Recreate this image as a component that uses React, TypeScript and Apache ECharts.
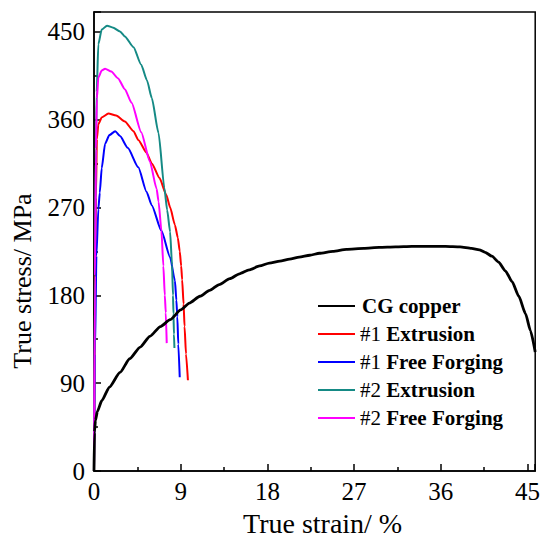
import React, { useEffect, useRef } from "react";
import * as echarts from "echarts";

const FONT = '"Liberation Serif", "Times New Roman", serif';

const seriesNames = ["CG copper", "#1 Extrusion", "#1 Free Forging", "#2 Extrusion", "#2 Free Forging"];
const seriesColors = ["#000000", "#FF0000", "#0000FF", "#158A85", "#FF00FF"];

const cgStrain = [0, 0.05, 0.15, 0.35, 0.8, 1.6, 2.7, 3.7, 4.8, 5.8, 6.9, 7.9, 9.0, 9.9, 11.0, 12.0, 13.0, 14.1, 15.1, 16.1, 17.2, 18.2, 19.3, 20.3, 21.3, 22.4, 23.4, 24.8, 26.2, 28.0, 29.6, 31.3, 33.0, 34.8, 36.5, 38.0, 39.2, 40.0, 40.6, 41.3, 42.0, 42.7, 43.4, 44.1, 44.8, 45.3, 45.8];
const cgStress = [0, 40, 52, 61, 72, 86, 101, 115, 127, 138, 148, 155, 165, 172, 179, 185, 191, 197, 202, 206, 210, 213, 215, 217, 219, 221, 223, 225, 227, 228, 229, 229.5, 230, 230, 230, 229.5, 228, 226.5, 224, 220, 214, 205, 194, 179, 161, 144, 122];

const ext1Strain = [0, 0.1, 0.2, 0.3, 0.45, 0.8, 1.5, 2.3, 3.2, 4.1, 4.6, 5.45, 6.0, 6.8, 7.5, 7.9, 8.4, 8.7, 8.9, 9.05, 9.15, 9.3, 9.4, 9.55, 9.75];
const ext1Stress = [0, 150, 280, 340, 355, 362, 366, 364, 358, 348, 339, 326, 315, 300, 283, 270, 252, 239, 225, 210, 196, 171, 148, 120, 93];

const ff1Strain = [0, 0.1, 0.25, 0.45, 0.6, 0.8, 1.15, 1.6, 2.2, 2.7, 3.5, 4.6, 5.45, 6.0, 7.0, 7.9, 8.4, 8.55, 8.65, 8.75, 8.9];
const ff1Stress = [0, 120, 220, 268, 285, 310, 335, 344, 348, 343, 331, 311, 286, 272, 246, 219, 195, 175, 158, 130, 96];

const ext2Strain = [0, 0.1, 0.2, 0.28, 0.45, 0.8, 1.35, 2.0, 2.7, 3.2, 4.1, 4.9, 5.5, 6.0, 6.7, 7.3, 7.6, 7.9, 8.1, 8.2, 8.25, 8.3, 8.35];
const ext2Stress = [0, 200, 330, 388, 437, 452, 456, 454, 450, 445, 434, 416, 400, 382, 346, 290, 267, 245, 211, 180, 161, 140, 126];

const ff2Strain = [0, 0.1, 0.2, 0.3, 0.45, 0.8, 1.15, 1.8, 2.5, 3.2, 3.9, 4.9, 5.8, 6.5, 6.7, 7.0, 7.2, 7.35, 7.45, 7.55];
const ff2Stress = [0, 200, 330, 381, 403, 410, 412, 409, 402, 391, 377, 347, 317, 289, 276, 246, 210, 180, 162, 131];

const strainSets = [cgStrain, ext1Strain, ff1Strain, ext2Strain, ff2Strain];
const stressSets = [cgStress, ext1Stress, ff1Stress, ext2Stress, ff2Stress];

const xTickInterval = 9;
const yTickInterval = 90;
const xAxisTitle = "True strain/ %";
const yAxisTitle = "True stress/ MPa";

export default function App() {
  const ref = useRef<HTMLDivElement>(null);
  useEffect(() => {
    document.body.style.margin = "0";
    if (!ref.current) return;
    const chart = echarts.init(ref.current, null, { renderer: "svg" });
    const series = seriesNames.map((name, i) => ({
      name,
      type: "line",
      showSymbol: false,
      symbol: "none",
      smooth: 0.2,
      smoothMonotone: "x",
      data: strainSets[i].map((x, k) => [x, stressSets[i][k]]),
      lineStyle: { color: seriesColors[i], width: i === 0 ? 2.8 : 2 },
      itemStyle: { color: seriesColors[i] },
      z: i === 0 ? 3 : 2,
    }));
    chart.setOption({
      animation: false,
      backgroundColor: "#ffffff",
      grid: {
        left: 94,
        right: 6,
        top: 12,
        bottom: 61,
        show: true,
        borderColor: "#000",
        borderWidth: 1.5,
        backgroundColor: "transparent",
      },
      graphic: [
        {
          type: "text",
          x: 22,
          y: 281,
          rotation: Math.PI / 2,
          style: {
            text: yAxisTitle,
            fontFamily: FONT,
            fontSize: 26,
            fill: "#000",
            textAlign: "center",
            textVerticalAlign: "middle",
          },
        },
      ],
      legend: {
        left: 313,
        top: 290,
        orient: "vertical",
        icon: "rect",
        itemWidth: 37,
        itemHeight: 2.2,
        itemGap: 6,
        data: seriesNames,
        formatter: (name: string) => {
          if (name.startsWith("#")) {
            const idx = name.indexOf(" ");
            return `{n|${name.slice(0, idx)}} {b|${name.slice(idx + 1)}}`;
          }
          return `{c|${name}}`;
        },
        textStyle: {
          fontFamily: FONT,
          fontSize: 21,
          color: "#000",
          lineHeight: 22,
          rich: {
            n: { fontFamily: FONT, fontSize: 21, fontWeight: "normal", color: "#000", lineHeight: 22 },
            b: { fontFamily: FONT, fontSize: 21, fontWeight: "bold", color: "#000", lineHeight: 22 },
            c: { fontFamily: FONT, fontSize: 21, fontWeight: "bold", color: "#000", lineHeight: 22, padding: [0, 0, 0, 2] },
          },
        },
      },
      xAxis: {
        type: "value",
        min: 0,
        max: 45.8,
        interval: xTickInterval,
        name: xAxisTitle,
        nameLocation: "middle",
        nameGap: 32,
        nameTextStyle: { fontFamily: FONT, fontSize: 28, color: "#000", padding: [0, 0, 0, 16] },
        axisLine: { show: true, lineStyle: { color: "#000", width: 1.5 } },
        axisTick: { show: true, inside: true, length: 7, lineStyle: { color: "#000", width: 1.5 } },
        minorTick: { show: true, splitNumber: 2, length: 4, lineStyle: { color: "#000", width: 1.5 } },
        axisLabel: { fontFamily: FONT, fontSize: 25, color: "#000", margin: 8, showMaxLabel: false },
        splitLine: { show: false },
      },
      yAxis: {
        type: "value",
        min: 0,
        max: 470,
        interval: yTickInterval,
        axisLine: { show: true, lineStyle: { color: "#000", width: 1.5 } },
        axisTick: { show: true, inside: true, length: 7, lineStyle: { color: "#000", width: 1.5 } },
        minorTick: { show: true, splitNumber: 2, length: 4, lineStyle: { color: "#000", width: 1.5 } },
        axisLabel: { fontFamily: FONT, fontSize: 25, color: "#000", margin: 9, showMaxLabel: false },
        splitLine: { show: false },
      },
      series,
    });
    return () => chart.dispose();
  }, []);
  return <div ref={ref} style={{ width: 543, height: 542 }} />;
}
